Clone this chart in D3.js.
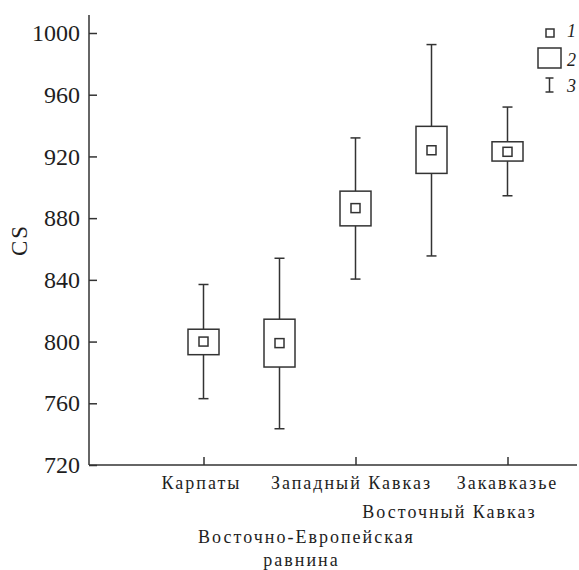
<!DOCTYPE html>
<html>
<head>
<meta charset="utf-8">
<script src="https://cdnjs.cloudflare.com/ajax/libs/d3/7.8.5/d3.min.js"></script>
<style>
  body { margin: 0; background: #fff; }
  svg text { font-family: "Liberation Serif", "Times New Roman", serif; fill: #1e1e1e; }
</style>
</head>
<body>
<svg id="chart" width="579" height="570"></svg>
<script>
// regions along the x axis
var regions = ["Карпаты", "Восточно-Европейская равнина", "Западный Кавказ", "Восточный Кавказ", "Закавказье"];
// mean (1), box = mean ± SE (2), whiskers = range (3)
var means = [800, 799, 886.5, 924, 923];
var boxLow = [791.5, 783.5, 875, 909, 917];
var boxHigh = [808, 814.5, 897.5, 939.5, 929.5];
var whiskLow = [763, 743.5, 840.5, 855.5, 894.5];
var whiskHigh = [837, 854, 932, 992.5, 952];
var yTicks = [720, 760, 800, 840, 880, 920, 960, 1000];
var legendLabels = ["1", "2", "3"];

// label placement under the axis (row, shift from the tick)
var labelLayout = [
  { row: 0, dx: -2 },
  { row: 2, dx: 27 },
  { row: 0, dx: -4 },
  { row: 1, dx: 18 },
  { row: 0, dx: 0 }
];
var rowY = [489, 518, 543, 566];

var svg = d3.select("#chart"),
  margin = { top: 33, left: 89, bottom: 105 };

var x = d3.scalePoint().domain(regions).range([203.5, 507.5]),
  y = d3.scaleLinear().domain([720, 1000]).range([465, 33]);

var ink = "#333";

// y axis
var yAxis = d3.axisLeft(y).tickValues(yTicks).tickFormat(d3.format("d"))
  .tickSize(-8).tickPadding(9).tickSizeOuter(0);
var gy = svg.append("g")
  .attr("transform", "translate(" + margin.left + ",0)")
  .attr("font-family", "Liberation Serif")
  .call(yAxis);
gy.select(".domain").remove();
gy.selectAll(".tick line").attr("stroke", ink).attr("stroke-width", 1.5);
gy.selectAll(".tick text").attr("font-size", 24).attr("fill", "#1e1e1e");

svg.append("line")
  .attr("x1", margin.left).attr("x2", margin.left)
  .attr("y1", 15).attr("y2", y(720))
  .attr("stroke", ink).attr("stroke-width", 1.5);

// x axis
var xAxis = d3.axisBottom(x)
  .tickValues([regions[0], regions[2], regions[4]])
  .tickSize(-8).tickFormat("");
var gx = svg.append("g")
  .attr("transform", "translate(0," + y(720) + ")")
  .call(xAxis);
gx.select(".domain").remove();
gx.selectAll(".tick line").attr("stroke", ink).attr("stroke-width", 1.5);

svg.append("line")
  .attr("x1", margin.left).attr("x2", 577)
  .attr("y1", y(720)).attr("y2", y(720))
  .attr("stroke", ink).attr("stroke-width", 1.5);

// category labels, long one split on two lines
regions.forEach(function(name, i) {
  var lay = labelLayout[i];
  var parts = name === "Восточно-Европейская равнина" ? ["Восточно-Европейская", "равнина"] : [name];
  parts.forEach(function(p, j) {
    svg.append("text")
      .attr("x", x(name) + lay.dx - (j ? 5 : 0))
      .attr("y", rowY[lay.row + j])
      .attr("text-anchor", "middle")
      .attr("font-size", 18)
      .attr("letter-spacing", 2)
      .text(p);
  });
});

// y label
svg.append("text")
  .attr("transform", "translate(27,240) rotate(-90)")
  .attr("text-anchor", "middle")
  .attr("font-size", 23)
  .attr("letter-spacing", 2)
  .text("CS");

// boxes
var data = regions.map(function(r, i) {
  return { region: r, mean: means[i], lo: boxLow[i], hi: boxHigh[i], wlo: whiskLow[i], whi: whiskHigh[i] };
});

var boxW = 31, capW = 10, dotS = 9;

var g = svg.append("g").attr("stroke", ink).attr("stroke-width", 1.5).attr("fill", "none");

var item = g.selectAll(".item").data(data).enter().append("g").attr("class", "item");

item.append("line")
  .attr("x1", function(d) { return x(d.region); })
  .attr("x2", function(d) { return x(d.region); })
  .attr("y1", function(d) { return y(d.whi); })
  .attr("y2", function(d) { return y(d.hi); });
item.append("line")
  .attr("x1", function(d) { return x(d.region); })
  .attr("x2", function(d) { return x(d.region); })
  .attr("y1", function(d) { return y(d.lo); })
  .attr("y2", function(d) { return y(d.wlo); });
item.append("line")
  .attr("x1", function(d) { return x(d.region) - capW / 2; })
  .attr("x2", function(d) { return x(d.region) + capW / 2; })
  .attr("y1", function(d) { return y(d.whi); })
  .attr("y2", function(d) { return y(d.whi); });
item.append("line")
  .attr("x1", function(d) { return x(d.region) - capW / 2; })
  .attr("x2", function(d) { return x(d.region) + capW / 2; })
  .attr("y1", function(d) { return y(d.wlo); })
  .attr("y2", function(d) { return y(d.wlo); });
item.append("rect")
  .attr("x", function(d) { return x(d.region) - boxW / 2; })
  .attr("y", function(d) { return y(d.hi); })
  .attr("width", boxW)
  .attr("height", function(d) { return y(d.lo) - y(d.hi); })
  .attr("fill", "#fff");
item.append("rect")
  .attr("x", function(d) { return x(d.region) - dotS / 2; })
  .attr("y", function(d) { return y(d.mean) - dotS / 2; })
  .attr("width", dotS)
  .attr("height", dotS)
  .attr("fill", "#fff");

// legend
var lg = svg.append("g").attr("stroke", ink).attr("stroke-width", 1.5).attr("fill", "none");
lg.append("rect").attr("x", 546).attr("y", 29).attr("width", 8).attr("height", 8);
lg.append("rect").attr("x", 538).attr("y", 48).attr("width", 23).attr("height", 20);
lg.append("line").attr("x1", 549.5).attr("x2", 549.5).attr("y1", 78).attr("y2", 92);
lg.append("line").attr("x1", 545.5).attr("x2", 553.5).attr("y1", 78).attr("y2", 78);
lg.append("line").attr("x1", 545.5).attr("x2", 553.5).attr("y1", 92).attr("y2", 92);

var legY = [37, 66, 92];
legendLabels.forEach(function(t, i) {
  svg.append("text")
    .attr("x", 567).attr("y", legY[i])
    .attr("font-size", 18)
    .attr("font-style", "italic")
    .text(t);
});
</script>
</body>
</html>
